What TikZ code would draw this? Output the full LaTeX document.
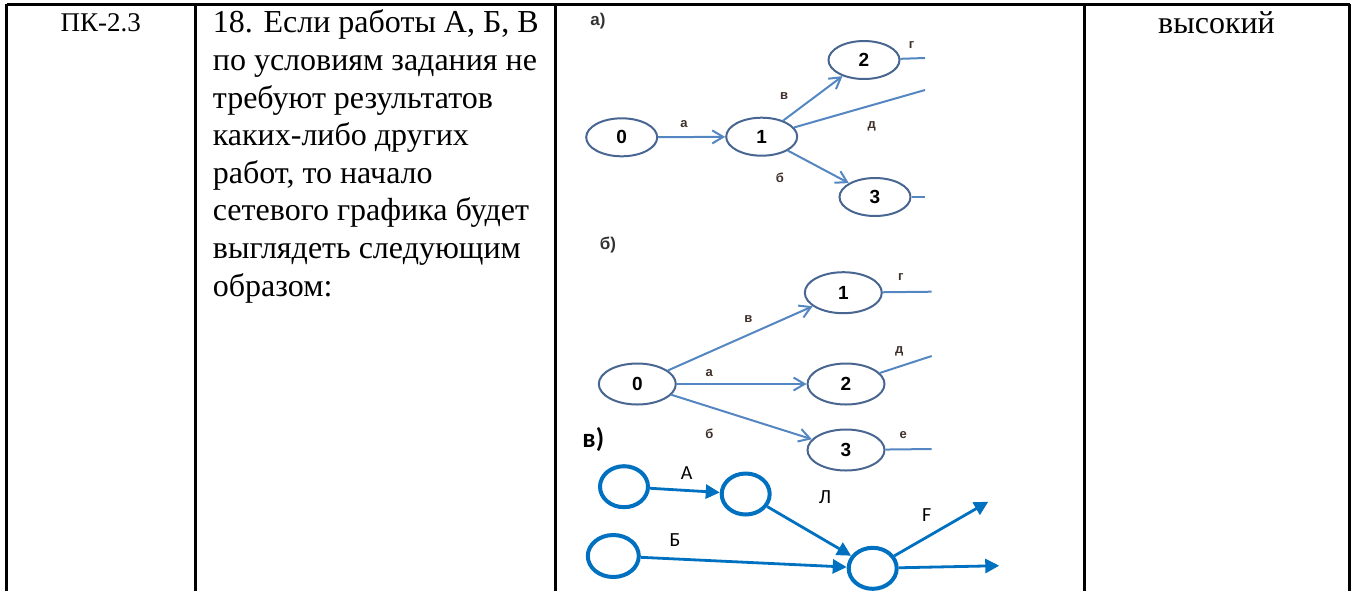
\documentclass[tikz,border=0pt]{standalone}
\usepackage{fontspec}
\setmainfont{Liberation Serif}
\newfontfamily\calibri{Carlito}
\newfontfamily\arialf{Liberation Sans}
\usepackage{tikz}
\usetikzlibrary{positioning}
\usetikzlibrary{shapes.geometric}
\usetikzlibrary{arrows.meta}
\definecolor{paleblue}{RGB}{84,134,194}
\definecolor{ringblue}{RGB}{72,102,145}
\definecolor{vividblue}{RGB}{0,112,192}
\definecolor{labdark}{RGB}{62,48,42}
\tikzstyle{line} = [draw, paleblue, line width=1pt]
\tikzstyle{arrline} = [line, -{Straight Barb[length=5.5pt,width=6.5pt]}]
\tikzstyle{bline} = [draw, vividblue, line width=1.4pt, -{Triangle[length=7pt,width=7pt]}]

\begin{document}
\begin{tikzpicture}[x=0.5pt, y=-0.5pt]

				\tikzstyle{grid} = [draw, black, line width=1.5pt]
				\tikzstyle{event} = [ellipse, draw=ringblue, line width=1pt, inner sep=0pt, minimum width=35.5pt, minimum height=19pt, font=\arialf\bfseries\fontsize{9.5}{10}\selectfont]
				\tikzstyle{bigevent} = [event, minimum width=38.5pt, minimum height=20.5pt]
				\tikzstyle{vertex} = [ellipse, draw=vividblue, line width=2pt, inner sep=0pt, minimum width=24pt, minimum height=20.5pt]
				\tikzstyle{elab} = [text=labdark, inner sep=0pt, font=\arialf\bfseries\fontsize{6.5}{7}\selectfont]
				\tikzstyle{part} = [inner sep=0pt, font=\arialf\bfseries\fontsize{8.5}{9}\selectfont, text=black!80]
				\tikzstyle{vlab} = [inner sep=0pt, font=\calibri\fontsize{10}{12}\selectfont]

				\useasboundingbox (0,0) rectangle (1351,591);

				% table
				\draw [grid] (6.5,4) -- (1349.5,4);
				\foreach \xc in {6.5, 195, 555, 1084, 1349.5}
				  \draw [grid] (\xc,4) -- (\xc,591);

				\node [anchor=base, inner sep=0pt, font=\fontsize{13.5}{15.5}\selectfont] (code) at (100.75,31) {ПК-2.3};
				\node [anchor=north west, inner sep=0pt, align=left, font=\fontsize{16}{18.8}\selectfont] (question) at (212.5,9.5)
				  {18. Если работы А, Б, В\\по условиям задания не\\требуют результатов\\каких-либо других\\работ, то начало\\сетевого графика будет\\выглядеть следующим\\образом:};
				\node [anchor=base, inner sep=0pt, font=\fontsize{16}{18.8}\selectfont] (level) at (1216.5,33) {высокий};

				% a)
				\node [part] (parta) at (598,21) {а)};
				\node [event] (a0) at (621.7,137.3) {0};
				\node [event] (a1) at (761.7,136.7) {1};
				\node [event] (a2) at (864,60) {2};
				\node [event] (a3) at (875,197) {3};
				\coordinate (aend2) at (925,58);
				\coordinate (aendd) at (925,90);
				\coordinate (aend3) at (925,197);

				\path [arrline] (a0) -- (a1);
				\path [arrline] (a1) -- (a2);
				\path [arrline] (a1) -- (a3);
				\path [line] (a1) -- (aendd);
				\path [line] (a2) -- (aend2);
				\path [line] (a3) -- (aend3);

				\node [elab] (la) at (684,124) {а};
				\node [elab] (lv) at (784,96) {в};
				\node [elab] (ld) at (871.7,126) {д};
				\node [elab] (lb) at (780,178) {б};
				\node [elab] (lg) at (911.7,45) {г};

				% б)
				\node [part] (partb) at (608,245) {б)};
				\node [bigevent] (b0) at (637.3,384) {0};
				\node [bigevent] (b1) at (843.3,292.7) {1};
				\node [bigevent] (b2) at (846,384) {2};
				\node [bigevent] (b3) at (846,450) {3};
				\coordinate (bend1) at (931.7,291.7);
				\coordinate (bend2) at (931.7,356);
				\coordinate (bend3) at (931.7,449);

				\path [arrline] (b0) -- (b1);
				\path [arrline] (b0) -- (b2);
				\path [arrline] (b0) -- (b3);
				\path [line] (b1) -- (bend1);
				\path [line] (b2) -- (bend2);
				\path [line] (b3) -- (bend3);

				\node [elab] (mv) at (748.3,319.3) {в};
				\node [elab] (ma) at (709.3,372.7) {а};
				\node [elab] (mb) at (709.3,433.3) {б};
				\node [elab] (mg) at (900.7,276.7) {г};
				\node [elab] (md) at (899.3,351.7) {д};
				\node [elab] (me) at (903.3,435) {е};

				% в)
				\node [inner sep=0pt, font=\calibri\bfseries\fontsize{13.5}{15}\selectfont] (partc) at (593.3,440) {в)};
				\node [vertex] (c1) at (624,486.7) {};
				\node [vertex] (c2) at (745.7,494) {};
				\node [vertex, minimum width=25.5pt, minimum height=21pt] (c3) at (613.3,556) {};
				\node [vertex] (c4) at (872.7,568.3) {};
				\coordinate (cendf) at (988.3,501.7);
				\coordinate (cendr) at (999.3,565.7);

				\path [bline] (c1) -- (c2);
				\path [bline] (c2) -- (c4);
				\path [bline] (c3) -- (c4);
				\path [bline] (c4) -- (cendf);
				\path [bline] (c4) -- (cendr);

				\node [vlab] (lA) at (686.7,473.3) {А};
				\node [vlab] (lL) at (825,497) {Л};
				\node [vlab] (lB) at (675,540) {Б};
				\node [vlab] (lF) at (926.7,515) {F};

\end{tikzpicture}
\end{document}
